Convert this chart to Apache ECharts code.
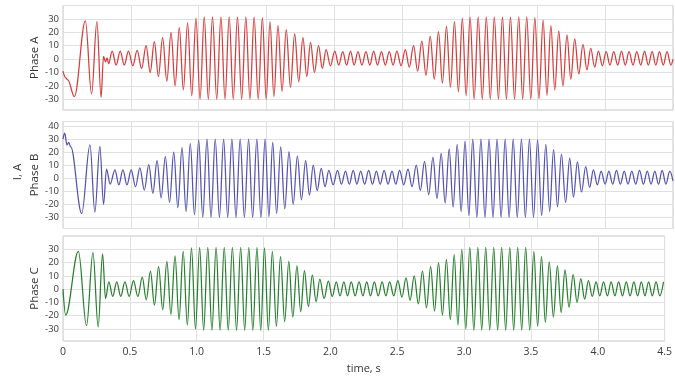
<!DOCTYPE html>
<html>
<head>
<meta charset="utf-8">
<script src="https://cdn.jsdelivr.net/npm/echarts@6/dist/echarts.min.js"></script>
<style>
  html, body { margin: 0; padding: 0; background: #ffffff; }
  #chart { width: 675px; height: 377px; }
</style>
</head>
<body>
<div id="chart"></div>
<script>
// Phase currents, I (A), sampled at the crest and trough of each cycle
const phaseNames = ['Phase A', 'Phase B', 'Phase C'];
const timeTickLabels = ['0', '0.5', '1.0', '1.5', '2.0', '2.5', '3.0', '3.5', '4.0', '4.5'];

const timeA = [0.000, 0.020, 0.035, 0.084, 0.165, 0.211, 0.250, 0.281, 0.299, 0.314, 0.326, 0.336,
  0.363, 0.392, 0.422, 0.452, 0.483, 0.515, 0.547, 0.580, 0.613, 0.643, 0.674, 0.704, 0.735, 0.766,
  0.797, 0.827, 0.858, 0.888, 0.919, 0.950, 0.981, 1.011, 1.042, 1.072, 1.103, 1.134, 1.165, 1.195,
  1.226, 1.256, 1.287, 1.318, 1.349, 1.379, 1.410, 1.440, 1.471, 1.499, 1.527, 1.556, 1.586, 1.616,
  1.647, 1.678, 1.709, 1.739, 1.770, 1.798, 1.826, 1.855, 1.885, 1.913, 1.941, 1.973, 2.005, 2.034,
  2.064, 2.092, 2.121, 2.148, 2.176, 2.205, 2.235, 2.263, 2.292, 2.320, 2.349, 2.378, 2.407, 2.435,
  2.463, 2.494, 2.525, 2.555, 2.586, 2.616, 2.647, 2.678, 2.709, 2.739, 2.770, 2.799, 2.829, 2.858,
  2.888, 2.917, 2.946, 2.974, 3.003, 3.033, 3.063, 3.093, 3.123, 3.152, 3.182, 3.212, 3.242, 3.271,
  3.301, 3.331, 3.362, 3.391, 3.421, 3.451, 3.481, 3.511, 3.542, 3.570, 3.599, 3.628, 3.657, 3.688,
  3.718, 3.746, 3.775, 3.805, 3.836, 3.865, 3.893, 3.922, 3.950, 3.979, 4.007, 4.035, 4.063, 4.092,
  4.120, 4.148, 4.176, 4.205, 4.233, 4.262, 4.290, 4.318, 4.346, 4.373, 4.400, 4.428, 4.456, 4.484,
  4.500];
const currentA = [-9, -14, -15.5, -28, 28.5, -26, 28, -28.5, 2, -2, 1, -3.5,
  6, -4.5, 6, -4.5, 6, -5, 6.5, -7, 10, -10, 13, -13, 16, -16.5,
  20, -20, 23.5, -23, 27, -27.5, 30.5, -30, 31.5, -30, 31.5, -30, 31.5, -30,
  31.5, -30, 31.5, -30, 31.5, -30, 31.5, -30, 31, -30, 28, -28, 25, -24,
  22, -21, 19, -17, 16, -13, 12.5, -10, 10, -7, 7, -5, 6, -4.5,
  5.5, -4.5, 6, -4.5, 5.5, -4.5, 5.5, -4.5, 6, -4.5, 5.5, -4.5, 5.5, -4.5,
  6, -5, 7, -6, 10, -9, 13.5, -12, 17, -15, 20.5, -18, 24.5, -21,
  28, -24.5, 30.5, -27.5, 31.5, -30, 31.5, -30, 31.5, -30, 31.5, -30, 31.5, -30,
  31.5, -30, 31.5, -30, 31.5, -30, 31, -29.5, 29, -27, 25, -23, 21, -20,
  18, -15, 15, -11, 11, -8, 8, -6, 6, -5, 5.5, -4.5, 5.5, -4.5,
  6, -4.5, 5.5, -4.5, 5.5, -4.5, 6, -4.5, 5.5, -4.5, 5.5, -4.5, 5.5, -4.5,
  0];

const timeB = [0.000, 0.013, 0.029, 0.042, 0.057, 0.138, 0.199, 0.235, 0.272, 0.299, 0.321, 0.348,
  0.383, 0.412, 0.442, 0.472, 0.503, 0.535, 0.567, 0.600, 0.633, 0.663, 0.694, 0.724, 0.755, 0.786,
  0.817, 0.847, 0.878, 0.908, 0.939, 0.970, 1.001, 1.031, 1.062, 1.092, 1.123, 1.154, 1.185, 1.215,
  1.246, 1.276, 1.307, 1.338, 1.369, 1.399, 1.430, 1.460, 1.491, 1.519, 1.547, 1.576, 1.606, 1.636,
  1.667, 1.698, 1.729, 1.759, 1.790, 1.818, 1.846, 1.875, 1.905, 1.933, 1.961, 1.993, 2.025, 2.054,
  2.084, 2.112, 2.141, 2.168, 2.196, 2.225, 2.255, 2.283, 2.312, 2.340, 2.369, 2.398, 2.427, 2.455,
  2.483, 2.514, 2.545, 2.575, 2.606, 2.636, 2.667, 2.698, 2.729, 2.759, 2.790, 2.819, 2.849, 2.878,
  2.908, 2.937, 2.966, 2.994, 3.023, 3.053, 3.083, 3.113, 3.143, 3.172, 3.202, 3.232, 3.262, 3.291,
  3.321, 3.351, 3.382, 3.411, 3.441, 3.471, 3.501, 3.531, 3.562, 3.590, 3.619, 3.648, 3.677, 3.708,
  3.738, 3.766, 3.795, 3.825, 3.856, 3.885, 3.913, 3.942, 3.970, 3.999, 4.027, 4.055, 4.083, 4.112,
  4.140, 4.168, 4.196, 4.225, 4.253, 4.282, 4.310, 4.338, 4.366, 4.393, 4.420, 4.448, 4.476, 4.500];
const currentB = [30, 34.5, 25.5, 27.5, 24, -27, 25.5, -26, 24.5, -20, 7, -4.5,
  6.5, -5, 6.5, -5, 6.5, -6.5, 8, -9, 10.5, -11.5, 13.5, -15, 16.5, -18.5,
  20, -22.5, 23.5, -25.5, 26.5, -28, 29.5, -30, 30, -30, 30, -30, 30, -30,
  30, -30, 30, -30, 30, -30, 30, -30, 30, -29.5, 27.5, -27, 24, -23.5,
  20.5, -20, 17, -16.5, 13.5, -13, 10, -9.5, 7.5, -6.5, 6, -5, 6, -4.5,
  5.5, -4.5, 6, -4.5, 5.5, -4.5, 6, -4.5, 5.5, -4.5, 6, -4.5, 5.5, -4.5,
  6, -5, 7, -6.5, 10, -9.5, 13, -12.5, 16, -15.5, 19, -19, 22.5, -22,
  26, -25.5, 28.5, -28.5, 30, -30, 30, -30, 30, -30, 30, -30, 30, -30,
  30, -30, 30, -30, 30, -30, 29.5, -28.5, 26, -25.5, 22, -22, 18.5, -18.5,
  15.5, -14.5, 12.5, -10.5, 9, -7, 6.5, -5, 5.5, -4.5, 5.5, -4.5, 6, -4.5,
  5.5, -4.5, 5.5, -4.5, 6, -4.5, 5.5, -4.5, 5.5, -4.5, 6, -4.5, 5.5, -2];

const timeC = [0.000, 0.020, 0.115, 0.176, 0.224, 0.263, 0.296, 0.318,
  0.343, 0.372, 0.402, 0.432, 0.463, 0.495, 0.527, 0.560, 0.593, 0.623, 0.654, 0.684, 0.715, 0.746,
  0.777, 0.807, 0.838, 0.868, 0.899, 0.930, 0.961, 0.991, 1.022, 1.052, 1.083, 1.114, 1.145, 1.175,
  1.206, 1.236, 1.267, 1.298, 1.329, 1.359, 1.390, 1.420, 1.451, 1.479, 1.507, 1.536, 1.566, 1.596,
  1.627, 1.658, 1.689, 1.719, 1.750, 1.778, 1.806, 1.835, 1.865, 1.893, 1.921, 1.953, 1.985, 2.014,
  2.044, 2.072, 2.101, 2.128, 2.156, 2.185, 2.215, 2.243, 2.272, 2.300, 2.329, 2.358, 2.387, 2.415,
  2.443, 2.474, 2.505, 2.535, 2.566, 2.596, 2.627, 2.658, 2.689, 2.719, 2.750, 2.779, 2.809, 2.838,
  2.868, 2.897, 2.926, 2.954, 2.983, 3.013, 3.043, 3.073, 3.103, 3.132, 3.162, 3.192, 3.222, 3.251,
  3.281, 3.311, 3.342, 3.371, 3.401, 3.431, 3.461, 3.491, 3.522, 3.550, 3.579, 3.608, 3.637, 3.668,
  3.698, 3.726, 3.755, 3.785, 3.816, 3.845, 3.873, 3.902, 3.930, 3.959, 3.987, 4.015, 4.043, 4.072,
  4.100, 4.128, 4.156, 4.185, 4.213, 4.242, 4.270, 4.298, 4.326, 4.353, 4.380, 4.408, 4.436, 4.464,
  4.492];
const currentC = [0, -19.5, 28.5, -27.5, 27.5, -28.5, 26.5, -7,
  5.5, -5.5, 5.5, -5.5, 5.5, -5.5, 6.5, -5.5, 9, -8, 13.5, -12, 17, -15.5,
  21, -19, 25, -23, 28.5, -27, 31, -30, 31.5, -31, 31.5, -31, 31.5, -31,
  31.5, -31, 31.5, -31, 31.5, -31, 31.5, -31, 31.5, -31, 31, -31, 28.5, -28,
  24.5, -24.5, 21, -21, 17.5, -17, 14, -13, 10.5, -9.5, 7.5, -7, 6, -5.5,
  5.5, -5, 5.5, -5, 5.5, -5, 5.5, -5, 5.5, -5, 5.5, -5, 5.5, -5,
  5.5, -5, 6.5, -6, 8.5, -8.5, 10, -11, 13.5, -14, 17, -16.5, 20, -19.5,
  22.5, -23, 26, -27, 30, -30, 31.5, -31, 31.5, -31, 31.5, -31, 31.5, -31,
  31.5, -31, 31.5, -31, 31.5, -31, 31.5, -31, 28.5, -28, 24.5, -25, 20.5, -21,
  17.5, -17.5, 14.5, -13.5, 11, -10, 8, -7.5, 6.5, -5.5, 5.5, -5, 5.5, -5,
  5.5, -5, 5.5, -5, 5.5, -5, 5.5, -5, 5.5, -5, 5.5, -5, 5.5, -5,
  5.5];

const phaseTimes = [timeA, timeB, timeC];
const phaseCurrents = [currentA, currentB, currentC];
const phaseColors = ['#d63c3c', '#5353b0', '#27802f'];
const currentRanges = [[-38, 40], [-38.5, 43.5], [-39, 40]];

const FONT = '"Open Sans", "DejaVu Sans", sans-serif';
const panels = [
  { top: 5.5, height: 104.5 },
  { top: 121.5, height: 107 },
  { top: 236, height: 105 }
];

const chart = echarts.init(document.getElementById('chart'), null, { renderer: 'canvas' });

const grid = panels.map(p => ({
  left: 63, right: 2, top: p.top, height: p.height,
  show: true, backgroundColor: '#ffffff', borderColor: '#c6c6c6', borderWidth: 1
}));

const xAxis = panels.map((p, i) => ({
  type: 'value', gridIndex: i, min: 0, max: 4.5, interval: 0.5,
  axisLine: { show: false }, axisTick: { show: false },
  splitLine: { show: true, lineStyle: { color: '#e0e0e0', width: 1 } },
  axisLabel: {
    show: i === 2, fontSize: 10.5, color: '#3a3a3a', fontFamily: FONT, margin: 6,
    alignMinLabel: 'center', alignMaxLabel: 'center',
    formatter: v => timeTickLabels[Math.round(v / 0.5)]
  },
  name: i === 2 ? 'time, s' : '',
  nameLocation: 'middle', nameGap: 22,
  nameTextStyle: { fontSize: 11, color: '#333', fontFamily: FONT }
}));

const yAxis = panels.map((p, i) => ({
  type: 'value', gridIndex: i,
  min: currentRanges[i][0], max: currentRanges[i][1], splitNumber: 8,
  axisLine: { show: false }, axisTick: { show: false },
  splitLine: { show: true, lineStyle: { color: '#e0e0e0', width: 1 } },
  axisLabel: {
    fontSize: 9.5, color: '#3a3a3a', fontFamily: FONT, margin: 4,
    showMinLabel: false, showMaxLabel: false
  },
  name: phaseNames[i], nameLocation: 'middle', nameRotate: 90, nameGap: 22,
  nameMoveOverlap: false,
  nameTextStyle: { fontSize: 11.5, color: '#333', fontFamily: FONT }
}));

const series = phaseNames.map((name, i) => ({
  name, type: 'line', xAxisIndex: i, yAxisIndex: i,
  data: phaseTimes[i].map((t, k) => [t, phaseCurrents[i][k]]),
  showSymbol: false, smooth: 0.36, smoothMonotone: 'x',
  lineStyle: { color: phaseColors[i], width: 1.25 },
  itemStyle: { color: phaseColors[i] },
  clip: true
}));

chart.setOption({
  animation: false,
  backgroundColor: '#ffffff',
  textStyle: { fontFamily: FONT },
  grid, xAxis, yAxis, series,
  graphic: [{
    type: 'text', x: 18, y: 172, rotation: Math.PI / 2,
    style: { text: 'I, A', fontSize: 11.5, fill: '#333', fontFamily: FONT, align: 'center', verticalAlign: 'middle' }
  }]
});
</script>
</body>
</html>
